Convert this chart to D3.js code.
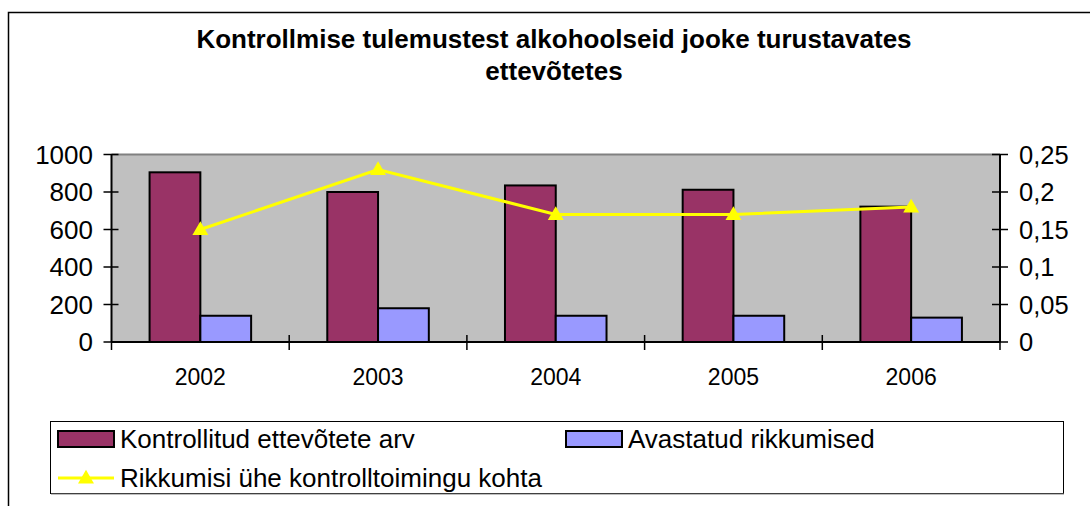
<!DOCTYPE html>
<html><head><meta charset="utf-8">
<script src="https://cdn.jsdelivr.net/npm/d3@7"></script>
<style>body{margin:0;background:#fff}svg{display:block;font-family:"Liberation Sans",Arial,sans-serif}</style>
</head><body><svg id="c" width="1090" height="506"></svg>
<script>
const years = ["2002","2003","2004","2005","2006"];
const controlled = [905, 800, 835, 812, 722];
const violations = [140, 180, 140, 140, 130];
const rate = [0.15, 0.23, 0.17, 0.17, 0.18];
const leftTicks = [0,200,400,600,800,1000];
const rightTicks = [0,0.05,0.1,0.15,0.2,0.25];
const titleLines = ["Kontrollmise tulemustest alkohoolseid jooke turustavates","ettevõtetes"];
const seriesNames = ["Kontrollitud ettevõtete arv","Avastatud rikkumised","Rikkumisi ühe kontrolltoimingu kohta"];

const svg = d3.select("#c");
const L=111.5, R=1000, T=154.5, B=342;
svg.append("path").attr("d",`M8.5,506V12.5H1090`).attr("fill","none").attr("stroke","#000").attr("stroke-width",1.5);
svg.append("text").attr("x",554).attr("text-anchor","middle").attr("font-weight","bold").attr("font-size",26)
  .selectAll("tspan").data(titleLines).join("tspan").attr("x",554).attr("y",(d,i)=>48+i*32).text(d=>d);

const x = d3.scaleBand().domain(years).range([L,R]).paddingInner(0).paddingOuter(0);
const yl = d3.scaleLinear().domain([0,1000]).range([B,T]);
const yr = d3.scaleLinear().domain([0,0.25]).range([B,T]);

svg.append("rect").attr("x",L).attr("y",T).attr("width",R-L).attr("height",B-T).attr("fill","#c0c0c0");
svg.append("line").attr("x1",L).attr("x2",R).attr("y1",T).attr("y2",T).attr("stroke","#808080").attr("stroke-width",2);

const bw = x.bandwidth()/3.5;
const g = svg.append("g");
g.selectAll("rect.a").data(years).join("rect").attr("class","a")
  .attr("x",d=>x(d)+x.bandwidth()/2-bw).attr("width",bw)
  .attr("y",(d,i)=>yl(controlled[i])).attr("height",(d,i)=>B-yl(controlled[i]))
  .attr("fill","#993366").attr("stroke","#000").attr("stroke-width",2);
g.selectAll("rect.b").data(years).join("rect").attr("class","b")
  .attr("x",d=>x(d)+x.bandwidth()/2).attr("width",bw)
  .attr("y",(d,i)=>yl(violations[i])).attr("height",(d,i)=>B-yl(violations[i]))
  .attr("fill","#9999ff").attr("stroke","#000").attr("stroke-width",2);

const ax = svg.append("g").attr("stroke","#000");
ax.append("line").attr("x1",L).attr("x2",L).attr("y1",T).attr("y2",B).attr("stroke-width",2);
ax.append("line").attr("x1",R).attr("x2",R).attr("y1",T).attr("y2",B).attr("stroke-width",2);
ax.append("line").attr("x1",L).attr("x2",R).attr("y1",B).attr("y2",B).attr("stroke-width",2);
ax.selectAll("line.lt").data(leftTicks).join("line").attr("class","lt")
  .attr("x1",L-8).attr("x2",L+7).attr("y1",d=>yl(d)).attr("y2",d=>yl(d)).attr("stroke-width",1.5);
ax.selectAll("line.rt").data(rightTicks).join("line").attr("class","rt")
  .attr("x1",R-8).attr("x2",R+8).attr("y1",d=>yr(d)).attr("y2",d=>yr(d)).attr("stroke-width",1.5);
const catEdges = years.map(d=>x(d)).concat([R]);
ax.selectAll("line.ct").data(catEdges).join("line").attr("class","ct")
  .attr("x1",d=>d).attr("x2",d=>d).attr("y1",(d,i)=>(i==0||i==years.length)?B:B-7).attr("y2",B+8).attr("stroke-width",1.5);

svg.selectAll("text.lt").data(leftTicks).join("text").attr("class","lt")
  .attr("x",93).attr("y",d=>yl(d)).attr("dy","0.36em").attr("text-anchor","end").attr("font-size",26).text(d=>d);
const fmt = d=> String(+d.toFixed(2)).replace(".",",");
svg.selectAll("text.rt").data(rightTicks).join("text").attr("class","rt")
  .attr("x",1019).attr("y",d=>yr(d)).attr("dy","0.36em").attr("font-size",25.5).text(fmt);
svg.selectAll("text.ct").data(years).join("text").attr("class","ct")
  .attr("x",d=>x(d)+x.bandwidth()/2).attr("y",377).attr("dy","0.36em").attr("text-anchor","middle").attr("font-size",23).text(d=>d);

const cx = d=>x(d)+x.bandwidth()/2;
const line = d3.line().x((d,i)=>cx(years[i])).y(d=>yr(d));
svg.append("path").attr("d",line(rate)).attr("fill","none").attr("stroke","#ffff00").attr("stroke-width",3);
const tri = d3.symbol().type(d3.symbolTriangle).size(110);
svg.selectAll("path.m").data(rate).join("path").attr("class","m")
  .attr("transform",(d,i)=>`translate(${cx(years[i])},${yr(d)+1})`).attr("d",tri).attr("fill","#ffff00");

const lg = svg.append("g");
lg.append("rect").attr("x",50.5).attr("y",421.5).attr("width",1013).attr("height",72).attr("fill","#fff").attr("stroke","#000").attr("stroke-width",1);
lg.append("line").attr("x1",51).attr("x2",1064).attr("y1",494).attr("y2",494).attr("stroke","#808080").attr("stroke-width",1);
lg.append("rect").attr("x",58).attr("y",431).attr("width",56).attr("height",16).attr("fill","#993366").attr("stroke","#000").attr("stroke-width",2);
lg.append("text").attr("x",120).attr("y",439).attr("dy","0.36em").attr("font-size",26).text(seriesNames[0]);
lg.append("rect").attr("x",566).attr("y",431).attr("width",56).attr("height",16).attr("fill","#9999ff").attr("stroke","#000").attr("stroke-width",2);
lg.append("text").attr("x",628).attr("y",439).attr("dy","0.36em").attr("font-size",26).text(seriesNames[1]);
lg.append("line").attr("x1",58).attr("x2",114).attr("y1",478).attr("y2",478).attr("stroke","#ffff00").attr("stroke-width",3);
lg.append("path").attr("transform","translate(86,479)").attr("d",tri).attr("fill","#ffff00");
lg.append("text").attr("x",120).attr("y",478).attr("dy","0.36em").attr("font-size",26).text(seriesNames[2]);
</script></body></html>
